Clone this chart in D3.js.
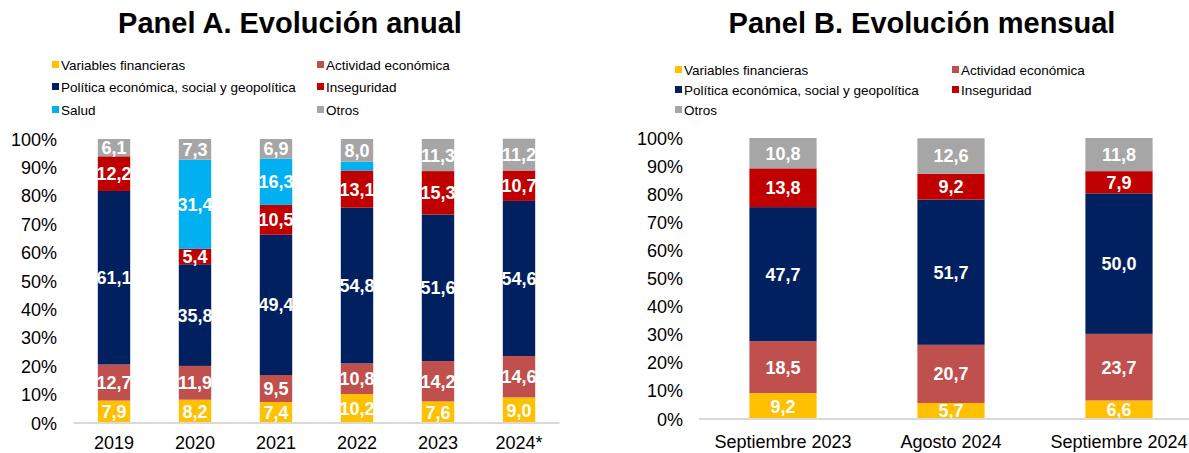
<!DOCTYPE html>
<html>
<head>
  <meta charset="utf-8">
  <title>Panel A / Panel B</title>
  <script src="https://d3js.org/d3.v7.min.js"></script>
  <style>
    body { margin: 0; background: #fff; }
    svg { display: block; font-family: "Liberation Sans", Arial, sans-serif; }
  </style>
</head>
<body>
  <svg id="chart" width="1189" height="453"></svg>

  <script>
    // Series keys and their legend names
    let seriesKeys = ["fin", "act", "pol", "inseg", "salud", "otros"];
    let seriesNames = ["Variables financieras", "Actividad económica",
                       "Política económica, social y geopolítica", "Inseguridad",
                       "Salud", "Otros"];
    let seriesColors = ["#FFC000", "#C0504D", "#002060", "#C00000", "#00B0F0", "#A6A6A6"];

    // Panel A: yearly
    let yearsA = ["2019", "2020", "2021", "2022", "2023", "2024*"];
    let finA   = [7.9, 8.2, 7.4, 10.2, 7.6, 9.0];
    let actA   = [12.7, 11.9, 9.5, 10.8, 14.2, 14.6];
    let polA   = [61.1, 35.8, 49.4, 54.8, 51.6, 54.6];
    let insegA = [12.2, 5.4, 10.5, 13.1, 15.3, 10.7];
    let saludA = [0, 31.4, 16.3, 3.1, 0, 0];
    let otrosA = [6.1, 7.3, 6.9, 8.0, 11.3, 11.2];
    // the small 2022 Salud slice has no label in the source
    let hideLabelA = [[], [], [], ["salud"], [], []];

    // Panel B: monthly
    let monthsB = ["Septiembre 2023", "Agosto 2024", "Septiembre 2024"];
    let finB   = [9.2, 5.7, 6.6];
    let actB   = [18.5, 20.7, 23.7];
    let polB   = [47.7, 51.7, 50.0];
    let insegB = [13.8, 9.2, 7.9];
    let otrosB = [10.8, 12.6, 11.8];

    let yTicks = [0, 10, 20, 30, 40, 50, 60, 70, 80, 90, 100];

    let svg = d3.select("#chart");
    let fmt = d3.format(".1f");
    function lbl(v) { return fmt(v).replace(".", ","); }

    function drawPanel(opt) {
      let rows = opt.cats.map(function(c, i) {
        let r = {cat: c};
        opt.keys.forEach(function(k) { r[k] = opt.values[k][i]; });
        return r;
      });

      let x = d3.scaleBand()
                .domain(opt.cats)
                .range(opt.xRange)
                .paddingInner(0.6)
                .paddingOuter(0.3);

      let y = d3.scaleLinear()
                .domain([0, 100])
                .range(opt.yRange);

      let stack = d3.stack().keys(opt.keys)(rows);

      let g = svg.append("g");

      // title
      g.append("text")
       .attr("x", opt.titleX)
       .attr("y", 33)
       .attr("text-anchor", "middle")
       .style("font-size", "29px")
       .style("font-weight", "bold")
       .text(opt.title);

      // legend
      opt.legend.forEach(function(k, i) {
        let col = i % 2, row = Math.floor(i / 2);
        let lx = opt.legX[col], ly = opt.legY[row];
        let idx = seriesKeys.indexOf(k);
        g.append("rect")
         .attr("x", lx).attr("y", ly - 4)
         .attr("width", 7).attr("height", 7)
         .attr("fill", seriesColors[idx]);
        g.append("text")
         .attr("x", lx + 9).attr("y", ly + 4.5)
         .style("font-size", "13.5px")
         .attr("fill", "#000")
         .text(seriesNames[idx]);
      });

      // y tick labels
      g.selectAll(".ytick")
       .data(yTicks)
       .enter()
       .append("text")
       .attr("x", opt.yLabelX)
       .attr("y", function(d) { return y(d) + 6.5; })
       .attr("text-anchor", "end")
       .style("font-size", "18px")
       .text(function(d) { return d + "%"; });

      // bars
      stack.forEach(function(s) {
        let idx = seriesKeys.indexOf(s.key);
        g.selectAll(".bar-" + s.key)
         .data(s)
         .enter()
         .append("rect")
         .attr("x", function(d) { return x(d.data.cat); })
         .attr("width", x.bandwidth())
         .attr("y", function(d) { return y(d[1]); })
         .attr("height", function(d) { return y(d[0]) - y(d[1]); })
         .attr("fill", seriesColors[idx]);
      });

      // value labels
      stack.forEach(function(s) {
        g.selectAll(".lbl-" + s.key)
         .data(s.filter(function(d, i) {
           return (d[1] - d[0]) > 0 && opt.hide[i].indexOf(s.key) < 0;
         }))
         .enter()
         .append("text")
         .attr("x", function(d) { return x(d.data.cat) + x.bandwidth() / 2; })
         .attr("y", function(d) { return (y(d[0]) + y(d[1])) / 2 + 6.5; })
         .attr("text-anchor", "middle")
         .attr("fill", "#fff")
         .style("font-size", "18px")
         .style("font-weight", "bold")
         .text(function(d) { return lbl(d[1] - d[0]); });
      });

      // baseline
      g.append("line")
       .attr("x1", opt.xRange[0]).attr("x2", Math.min(opt.xRange[1], 1189))
       .attr("y1", y(0)).attr("y2", y(0))
       .attr("stroke", "#D9D9D9")
       .attr("stroke-width", 2);

      // x labels
      g.selectAll(".xl")
       .data(opt.cats)
       .enter()
       .append("text")
       .attr("x", function(d) { return x(d) + x.bandwidth() / 2; })
       .attr("y", opt.xLabelY)
       .attr("text-anchor", "middle")
       .style("font-size", "18px")
       .text(function(d) { return d; });
    }

    drawPanel({
      title: "Panel A. Evolución anual",
      titleX: 290,
      cats: yearsA,
      keys: seriesKeys,
      values: {fin: finA, act: actA, pol: polA, inseg: insegA, salud: saludA, otros: otrosA},
      hide: hideLabelA,
      legend: ["fin", "act", "pol", "inseg", "salud", "otros"],
      legX: [52, 317],
      legY: [65, 87, 110],
      xRange: [73.5, 559.5],
      yRange: [423, 139],
      yLabelX: 57,
      xLabelY: 449
    });

    drawPanel({
      title: "Panel B. Evolución mensual",
      titleX: 922,
      cats: monthsB,
      keys: ["fin", "act", "pol", "inseg", "otros"],
      values: {fin: finB, act: actB, pol: polB, inseg: insegB, otros: otrosB},
      hide: [[], [], []],
      legend: ["fin", "act", "pol", "inseg", "otros"],
      legX: [675, 952],
      legY: [70, 90, 110],
      xRange: [699, 1203],
      yRange: [419, 138],
      yLabelX: 683,
      xLabelY: 448
    });
  </script>
</body>
</html>
